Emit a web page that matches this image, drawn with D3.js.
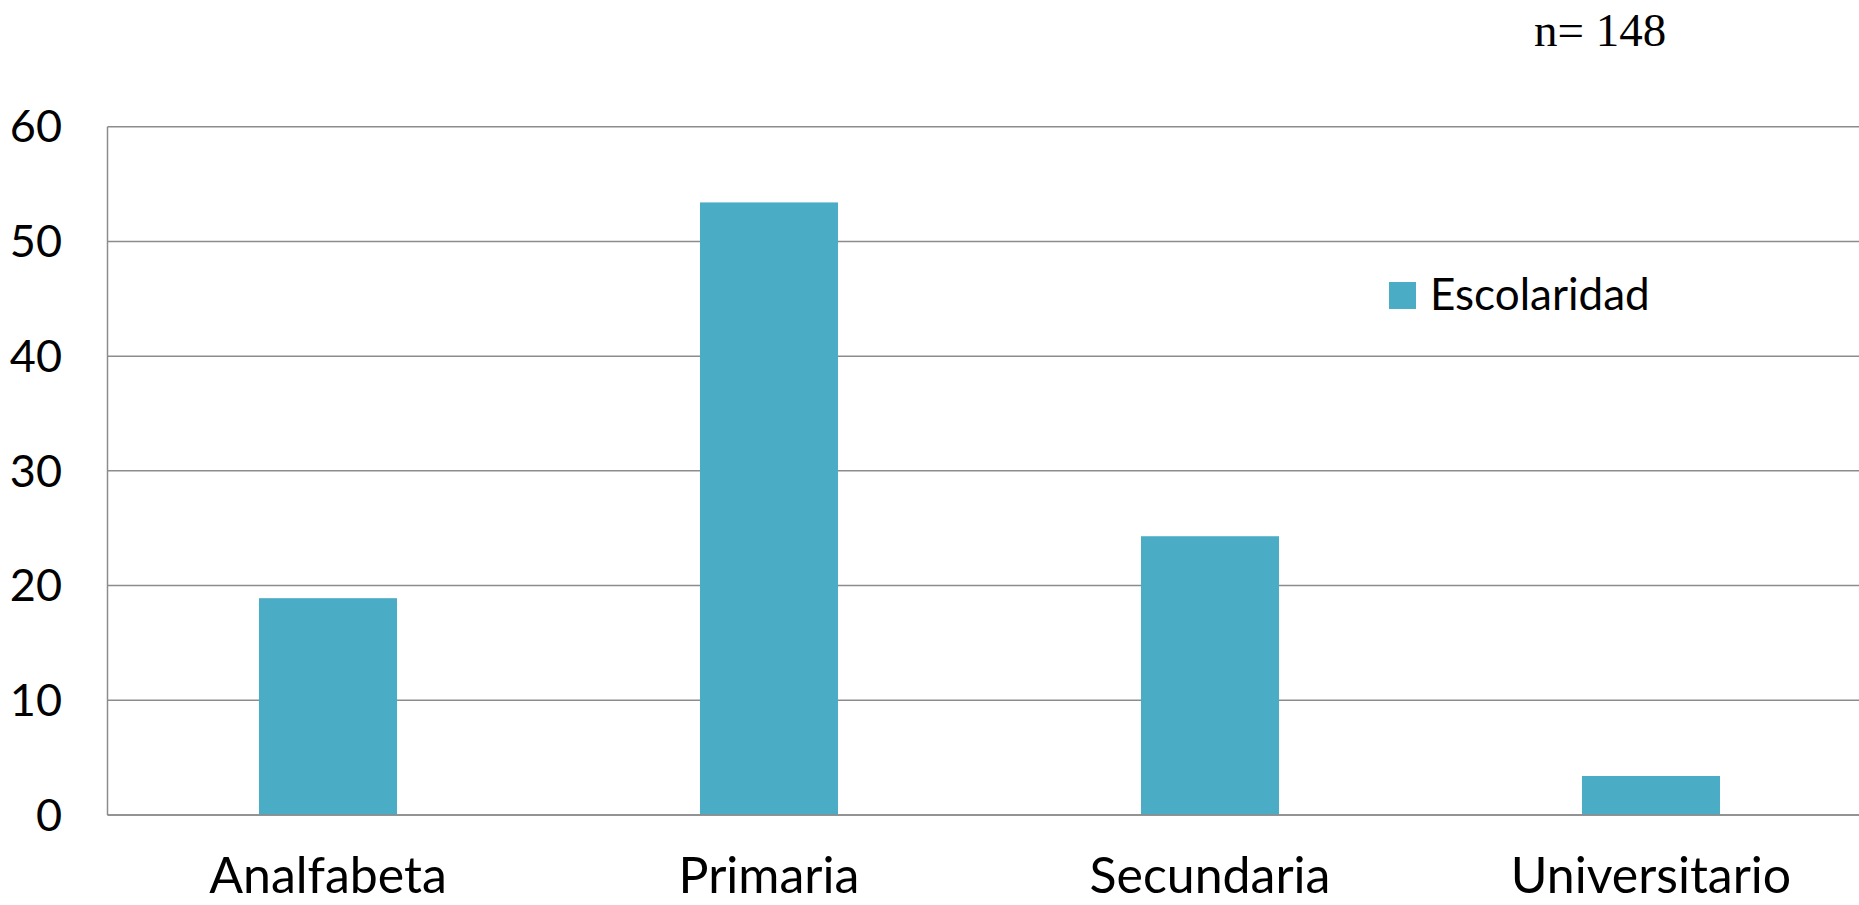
<!DOCTYPE html>
<html>
<head>
<meta charset="utf-8">
<script src="https://cdn.jsdelivr.net/npm/d3@7/dist/d3.min.js"></script>
<style>
  html, body { margin: 0; padding: 0; background: #ffffff; }
  svg { display: block; }
</style>
</head>
<body>
<svg id="chart" width="1859" height="905"></svg>
<script>
// Nivel de escolaridad (porcentaje), n = 148
const categories = ["Analfabeta", "Primaria", "Secundaria", "Universitario"];
const values = [18.9, 53.4, 24.3, 3.4];
const yTicks = [0, 10, 20, 30, 40, 50, 60];
const seriesName = "Escolaridad";
const sampleLabel = "n= 148";

const svg = d3.select("#chart");
const plot = { left: 107.5, right: 1871.5, top: 126.7, bottom: 815 };
const barColor = "#4BACC6";
const gridColor = "#8c8c8c";
const font = "Lato, 'Open Sans', sans-serif";

const x = d3.scaleBand()
  .domain(categories)
  .range([plot.left, plot.right])
  .paddingInner(0.687)
  .paddingOuter(0.3435);

const y = d3.scaleLinear().domain([0, 60]).range([plot.bottom, plot.top]);

// horizontal gridlines
svg.append("g")
  .selectAll("line")
  .data(yTicks)
  .join("line")
  .attr("x1", plot.left)
  .attr("x2", plot.right)
  .attr("y1", d => y(d))
  .attr("y2", d => y(d))
  .attr("stroke", gridColor)
  .attr("stroke-width", 1.5);

// bars
svg.append("g")
  .selectAll("rect")
  .data(values)
  .join("rect")
  .attr("x", (d, i) => x(categories[i]))
  .attr("width", x.bandwidth())
  .attr("y", d => y(d))
  .attr("height", d => y(0) - y(d))
  .attr("fill", barColor);

// left axis line
svg.append("line")
  .attr("x1", plot.left).attr("x2", plot.left)
  .attr("y1", plot.top).attr("y2", plot.bottom)
  .attr("stroke", gridColor).attr("stroke-width", 1.5);

// baseline
svg.append("line")
  .attr("x1", plot.left).attr("x2", plot.right)
  .attr("y1", y(0)).attr("y2", y(0))
  .attr("stroke", gridColor).attr("stroke-width", 1.5);

// y tick labels
svg.append("g")
  .selectAll("text")
  .data(yTicks)
  .join("text")
  .attr("x", 62)
  .attr("y", d => y(d))
  .attr("dy", "0.35em")
  .attr("text-anchor", "end")
  .attr("font-family", font)
  .attr("font-size", 45)
  .attr("fill", "#000")
  .text(d => d);

// category labels
svg.append("g")
  .selectAll("text")
  .data(categories)
  .join("text")
  .attr("x", d => x(d) + x.bandwidth() / 2)
  .attr("y", 893)
  .attr("text-anchor", "middle")
  .attr("font-family", font)
  .attr("font-size", 50)
  .attr("fill", "#000")
  .text(d => d);

// legend
const legend = svg.append("g").attr("transform", "translate(1389,282)");
legend.append("rect")
  .attr("width", 27).attr("height", 27)
  .attr("fill", barColor);
legend.append("text")
  .attr("x", 41)
  .attr("y", 28)
  .attr("font-family", font)
  .attr("font-size", 44)
  .attr("fill", "#000")
  .text(seriesName);

// sample size
svg.append("text")
  .attr("x", 1534)
  .attr("y", 46)
  .attr("font-family", "'Liberation Serif', 'Times New Roman', serif")
  .attr("font-size", 47)
  .attr("fill", "#000")
  .text(sampleLabel);
</script>
</body>
</html>
